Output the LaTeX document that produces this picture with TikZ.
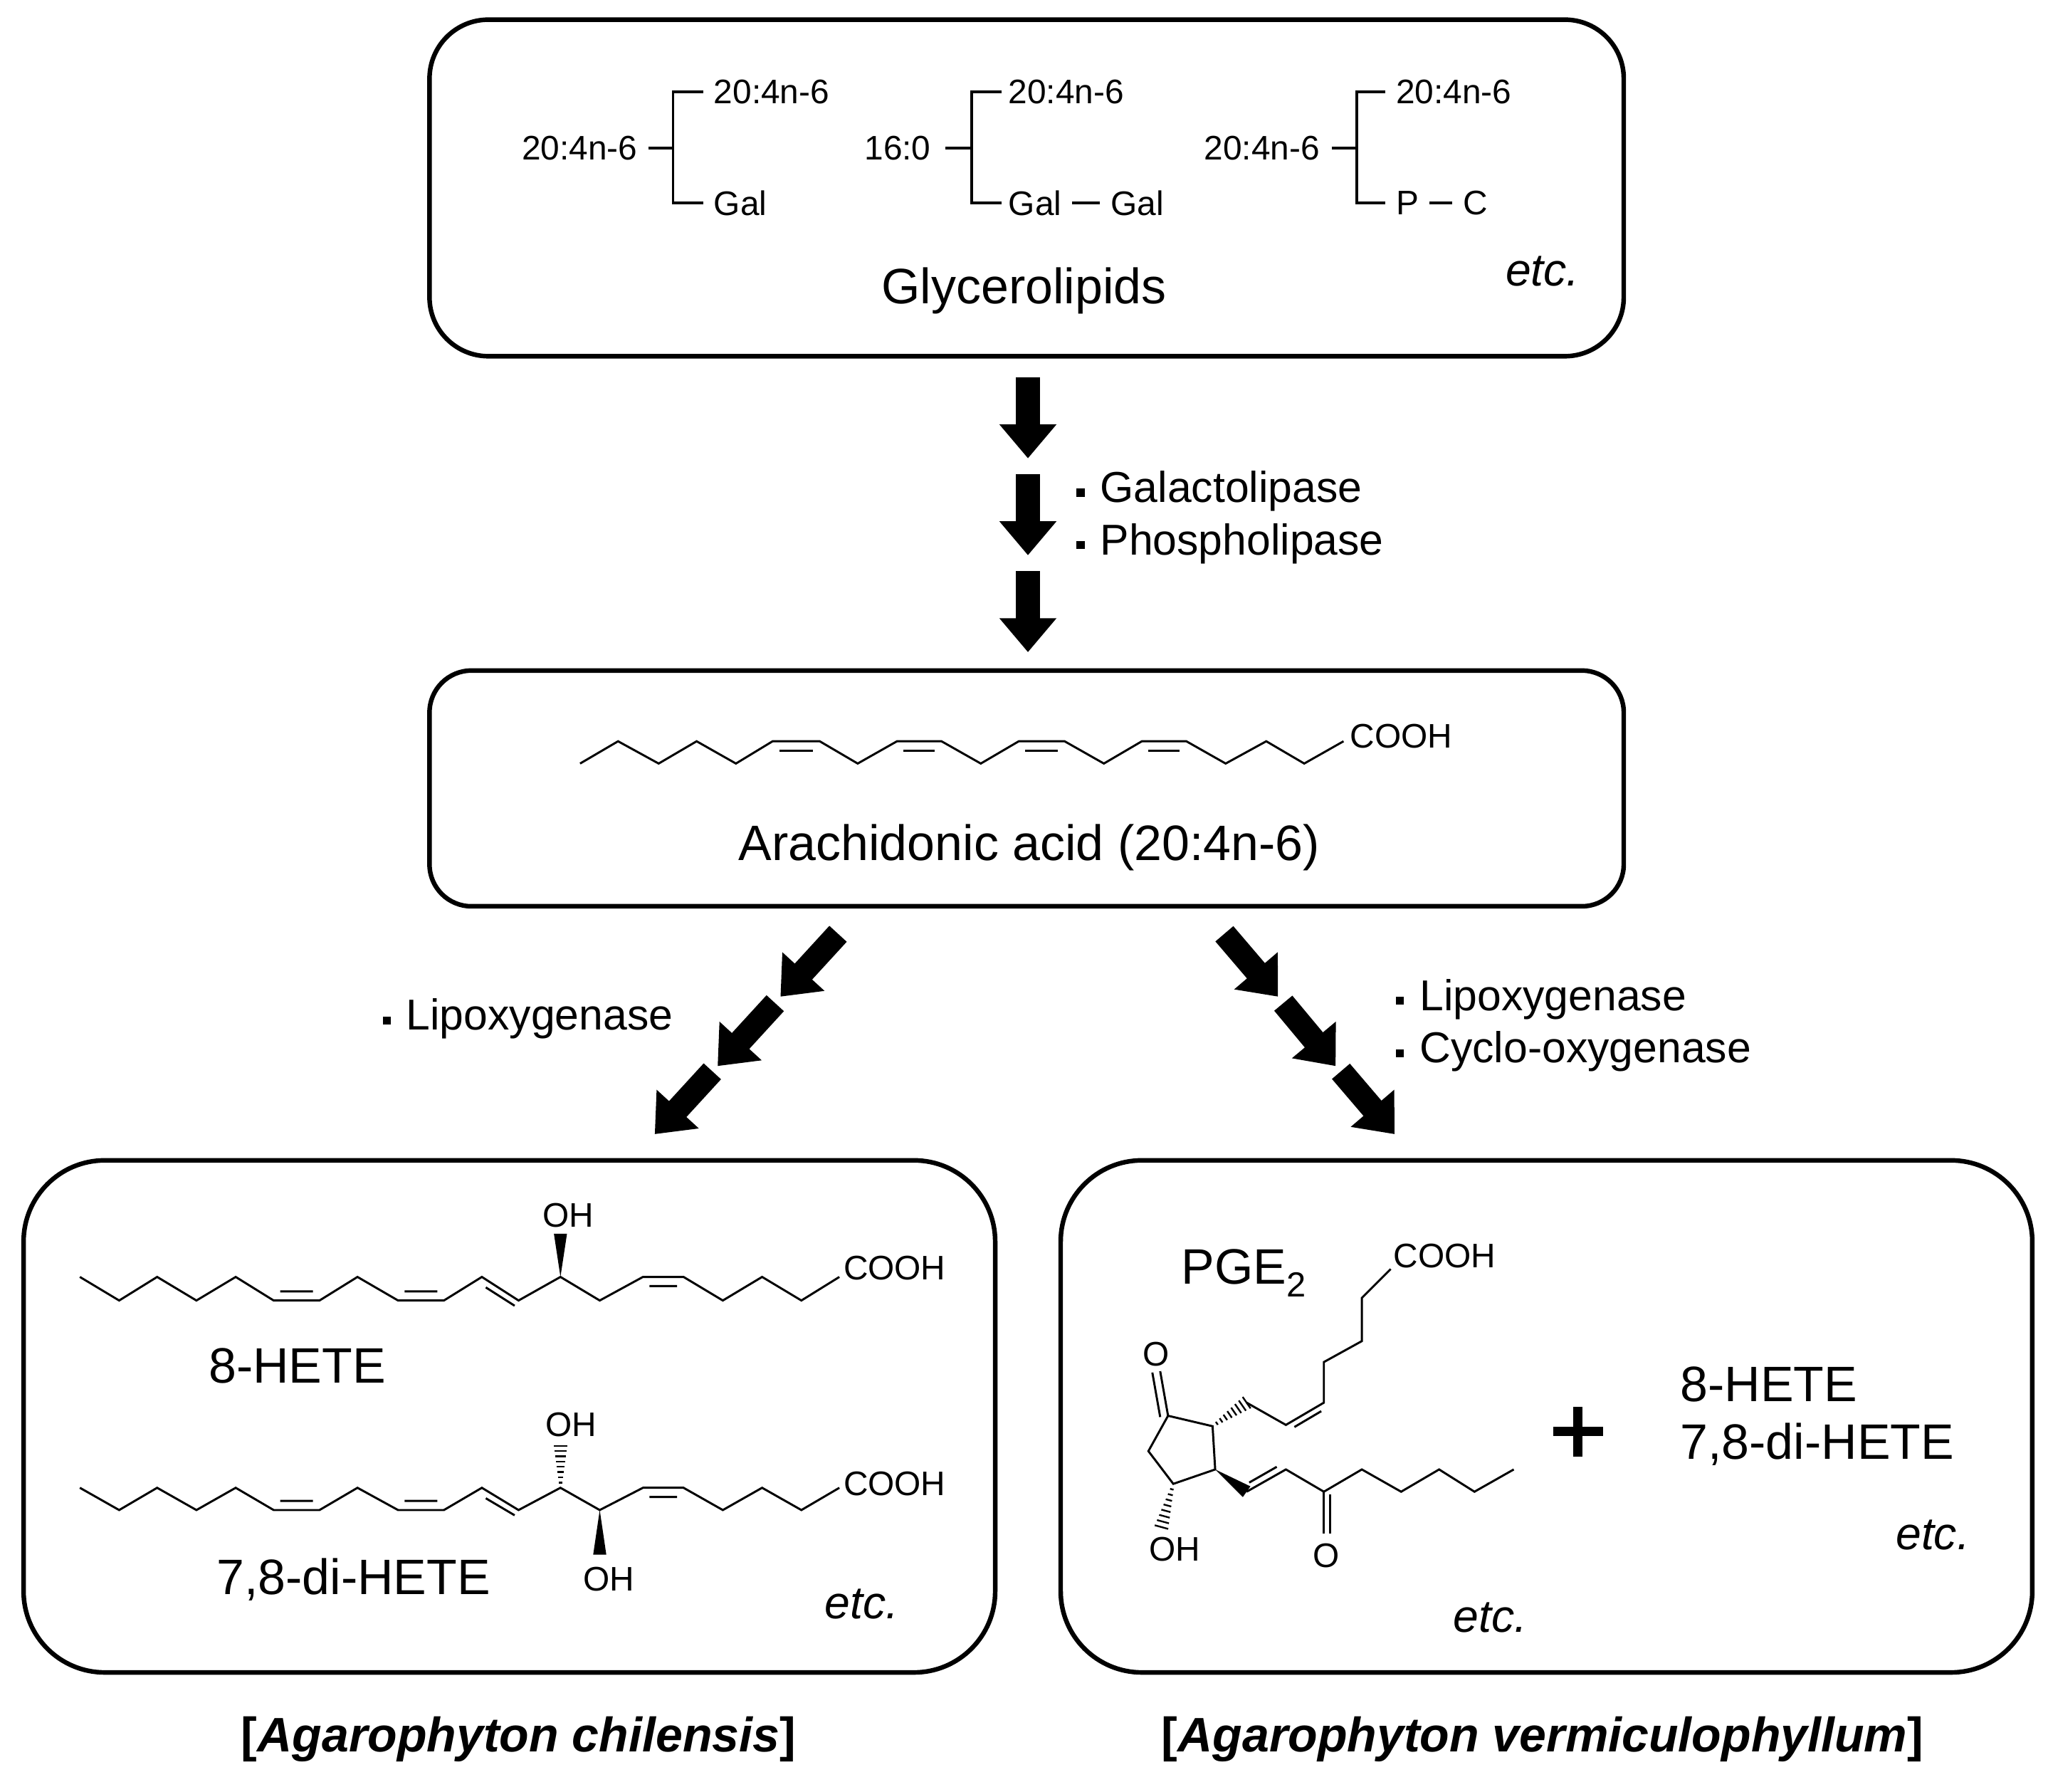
\documentclass[tikz,border=0pt]{standalone}
\usepackage{fontspec}
\setmainfont{Liberation Sans}
\usetikzlibrary{arrows.meta}
\newcommand{\hashbond}[4]{%
 \pgfmathsetmacro\hdx{#3-#1}\pgfmathsetmacro\hdy{#4-#2}%
 \pgfmathsetmacro\hlen{veclen(\hdx,\hdy)}%
 \foreach \i in {1,...,8}{%
  \pgfmathsetmacro\ht{\i/8}\pgfmathsetmacro\hw{0.8+4.5*\ht}%
  \draw[line width=1.3pt] ({#1+\ht*\hdx-\hw*\hdy/\hlen},{#2+\ht*\hdy+\hw*\hdx/\hlen}) -- ({#1+\ht*\hdx+\hw*\hdy/\hlen},{#2+\ht*\hdy-\hw*\hdx/\hlen});}}
\newcommand{\wedgebond}[4]{%
 \pgfmathsetmacro\hdx{#3-#1}\pgfmathsetmacro\hdy{#4-#2}%
 \pgfmathsetmacro\hlen{veclen(\hdx,\hdy)}%
 \fill (#1,#2) -- ({#3-5*\hdy/\hlen},{#4+5*\hdx/\hlen}) -- ({#3+5*\hdy/\hlen},{#4-5*\hdx/\hlen}) -- cycle;}
\newcommand{\bul}{\raisebox{0.25ex}{\rule{6pt}{6pt}}\hspace{12pt}}
\begin{document}
\begin{tikzpicture}[x=1pt,y=-1pt,
  box/.style={line width=3.5pt},
  chain/.style={line width=1.6pt,line join=miter},
  brk/.style={line width=2pt},
  big/.style={font=\fontsize{38}{42}\selectfont,inner sep=0pt},
  lab/.style={font=\fontsize{33}{38}\selectfont,inner sep=0pt,anchor=west},
  sm/.style={font=\fontsize{26}{30}\selectfont,inner sep=0pt},
  chem/.style={font=\fontsize{26}{30}\selectfont,inner sep=0pt},
  blk/.style={line width=18pt,-{Triangle[width=42pt,length=26pt]}}]
\useasboundingbox (0,0) rectangle (1564,1368);
% boxes
\draw[box,rounded corners=45pt] (328,15) rectangle (1240,272);
\draw[box,rounded corners=32pt] (328,512) rectangle (1240,692);
\draw[box,rounded corners=62pt] (18,886) rectangle (760,1277);
\draw[box,rounded corners=62pt] (810,886) rectangle (1552,1277);
% glycerolipids
\node[sm,anchor=east] (g1) at (487,113) {20:4n-6};
\draw[brk] (495,113) -- (514,113);
\draw[brk] (537,70) -- (514,70) -- (514,155) -- (537,155);
\node[sm,anchor=west] (g1a) at (545,70) {20:4n-6};
\node[sm,anchor=west] (g1b) at (545,155) {Gal};
\node[sm,anchor=east] (g2) at (711,113) {16:0};
\draw[brk] (722,113) -- (742,113);
\draw[brk] (765,70) -- (742,70) -- (742,155) -- (765,155);
\node[sm,anchor=west] (g2a) at (770,70) {20:4n-6};
\node[sm,anchor=west] (g2b) at (770,155) {Gal};
\node[sm,anchor=west] (g2c) at (848,155) {Gal};
\draw[brk] ([xshift=8pt]g2b.east) -- ([xshift=-8pt]g2c.west);
\node[sm,anchor=east] (g3) at (1008,113) {20:4n-6};
\draw[brk] (1017,113) -- (1036,113);
\draw[brk] (1058,70) -- (1036,70) -- (1036,155) -- (1058,155);
\node[sm,anchor=west] (g3a) at (1066,70) {20:4n-6};
\node[sm,anchor=west] (g3b) at (1066,155) {P};
\node[sm,anchor=west] (g3c) at (1117,155) {C};
\draw[brk] ([xshift=8pt]g3b.east) -- ([xshift=-8pt]g3c.west);
\node[big] (glyc) at (782,222) {Glycerolipids};
\node[big,font=\fontsize{35}{40}\selectfont\itshape] (etc0) at (1178,207) {etc.};
% vertical arrows
\coordinate (v1) at (785,288); \coordinate (v2) at (785,350);
\coordinate (v3) at (785,362); \coordinate (v4) at (785,424);
\coordinate (v5) at (785,436); \coordinate (v6) at (785,498);
\draw[blk] (v1) -- (v2); \draw[blk] (v3) -- (v4); \draw[blk] (v5) -- (v6);
\node[lab] (e1) at (822,375) {\bul Galactolipase};
\node[lab] (e2) at (822,415) {\bul Phospholipase};
% arachidonic acid
\draw[chain] (443,583)--(472,566)--(503,583)--(532,566)--(562,583)--(590,566)--(626,566)--(655,583)--(685,566)--(719,566)--(749,583)--(778,566)--(813,566)--(843,583)--(872,566)--(906,566)--(936,583)--(967,566)--(996,583)--(1026,566);
\draw[chain] (595,573)--(621,573) (690,573)--(714,573) (783,573)--(808,573) (877,573)--(901,573);
\node[chem,anchor=west] (aa) at (1031,562) {COOH};
\node[big] (ara) at (786,647) {Arachidonic acid (20:4n-6)};
% diagonal arrows
\coordinate (l1) at (640,713); \coordinate (l2) at (596,761);
\coordinate (l3) at (592,766); \coordinate (l4) at (548,814);
\coordinate (l5) at (544,818); \coordinate (l6) at (500,866);
\draw[blk] (l1)--(l2); \draw[blk] (l3)--(l4); \draw[blk] (l5)--(l6);
\coordinate (r1) at (935,713); \coordinate (r2) at (976,761);
\coordinate (r3) at (980,766); \coordinate (r4) at (1020,814);
\coordinate (r5) at (1024,818); \coordinate (r6) at (1065,866);
\draw[blk] (r1)--(r2); \draw[blk] (r3)--(r4); \draw[blk] (r5)--(r6);
\node[lab] (e3) at (292,778) {\bul Lipoxygenase};
\node[lab] (e4) at (1066,763) {\bul Lipoxygenase};
\node[lab] (e5) at (1066,803) {\bul Cyclo-oxygenase};
% 8-HETE
\draw[chain] (61,975)--(91,993)--(120,975)--(150,993)--(180,975)--(209,993)--(244,993)--(273,975)--(304,993)--(339,993)--(368,975)--(396,993)--(428,975)--(458,993)--(491,975)--(522,975)--(552,993)--(582,975)--(612,993)--(641,975);
\draw[chain] (214,986)--(239,986) (309,986)--(334,986) (496,982)--(517,982) (371,983)--(393,997);
\wedgebond{428}{975}{428}{942}
\node[chem] (oh1) at (434,928) {OH};
\node[chem,anchor=west] (c1) at (644,968) {COOH};
\node[big,font=\fontsize{38}{42}\selectfont] (h1) at (227,1043) {8-HETE};
% 7,8-di-HETE
\draw[chain] (61,1136)--(91,1153)--(120,1136)--(150,1153)--(180,1136)--(209,1153)--(244,1153)--(273,1136)--(304,1153)--(339,1153)--(368,1136)--(396,1153)--(428,1136)--(458,1153)--(491,1136)--(522,1136)--(552,1153)--(582,1136)--(612,1153)--(641,1136);
\draw[chain] (214,1146)--(239,1146) (309,1146)--(334,1146) (496,1143)--(517,1143) (371,1144)--(393,1157);
\hashbond{428}{1136}{428}{1104}
\wedgebond{458}{1153}{458}{1187}
\node[chem] (oh2) at (436,1088) {OH};
\node[chem] (oh3) at (465,1206) {OH};
\node[chem,anchor=west] (c2) at (644,1133) {COOH};
\node[big,font=\fontsize{38}{42}\selectfont] (h2) at (270,1206) {7,8-di-HETE};
\node[big,font=\fontsize{35}{40}\selectfont\itshape] (etc1) at (658,1225) {etc.};
% PGE2
\draw[chain] (892,1081)--(926,1089)--(928,1122)--(896,1133)--(877,1108)--cycle;
\draw[chain] (892,1081)--(886,1047) (886,1082)--(880,1048);
\node[chem] (o1) at (883,1034) {O};
\hashbond{926}{1089}{952}{1071}
\draw[chain] (952,1071)--(982,1088)--(1011,1071)--(1011,1040)--(1040,1024)--(1040,991)--(1062,969);
\draw[chain] (988.5,1089.6)--(1009,1077.5);
\node[chem,anchor=west] (c3) at (1064,959) {COOH};
\wedgebond{928}{1122}{952}{1139}
\draw[chain] (952,1139)--(982,1122)--(1011,1139)--(1040,1122)--(1070,1139)--(1099,1122)--(1126,1139)--(1156,1122);
\draw[chain] (954,1132)--(975,1120);
\draw[chain] (1011,1139)--(1011,1171) (1016,1141)--(1016,1171);
\node[chem] (o2) at (1013,1188) {O};
\hashbond{896}{1133}{887}{1166}
\node[chem] (oh4) at (897,1183) {OH};
\node[big] (pge) at (950,972) {PGE\textsubscript{2}};
\fill (1201.5,1074) rectangle (1208.5,1112);
\fill (1186,1089.5) rectangle (1224,1096.5);
\node[big,anchor=west,font=\fontsize{38}{42}\selectfont] (h3) at (1283,1057) {8-HETE};
\node[big,anchor=west,font=\fontsize{38}{42}\selectfont] (h4) at (1283,1103) {7,8-di-HETE};
\node[big,font=\fontsize{35}{40}\selectfont\itshape] (etc2) at (1476,1172) {etc.};
\node[big,font=\fontsize{35}{40}\selectfont\itshape] (etc3) at (1138,1235) {etc.};
% captions
\node[big,font=\fontsize{37}{42}\selectfont\bfseries] (s1) at (396,1328) {[\textit{Agarophyton chilensis}]};
\node[big,font=\fontsize{37}{42}\selectfont\bfseries] (s2) at (1178,1328) {[\textit{Agarophyton vermiculophyllum}]};
\end{tikzpicture}
\end{document}
